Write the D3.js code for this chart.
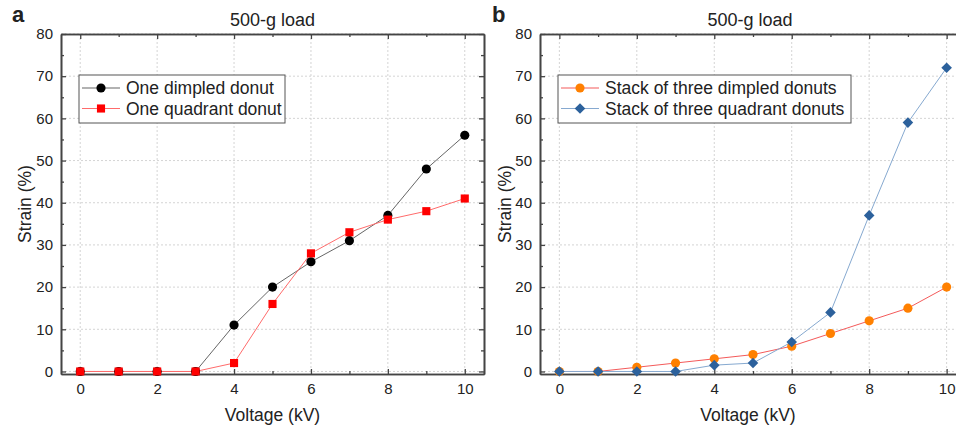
<!DOCTYPE html>
<html>
<head>
<meta charset="utf-8">
<script src="https://cdn.jsdelivr.net/npm/d3@7"></script>
<style>
  body { margin: 0; background: #fff; }
  text { font-family: "Liberation Sans", Arial, sans-serif; fill: #222; }
</style>
</head>
<body>
<div id="chart"></div>
<script>
// data
const voltage = [0, 1, 2, 3, 4, 5, 6, 7, 8, 9, 10];
const oneDimpled = [0, 0, 0, 0, 11, 20, 26, 31, 37, 48, 56];
const oneQuadrant = [0, 0, 0, 0, 2, 16, 28, 33, 36, 38, 41];
const stackDimpled = [0, 0, 1, 2, 3, 4, 6, 9, 12, 15, 20];
const stackQuadrant = [0, 0, 0, 0, 1.5, 2, 7, 14, 37, 59, 72];
const xTicks = [0, 2, 4, 6, 8, 10];
const yTicks = [0, 10, 20, 30, 40, 50, 60, 70, 80];

const width = 956, height = 430;

const svg = d3.select("#chart").append("svg")
  .attr("width", width)
  .attr("height", height);

const panels = [
  {
    letter: "a", left: 61, right: 484, letterX: 12, ylabX: 31,
    series: [
      {name: "One dimpled donut", values: oneDimpled, line: "#666", fill: "#000", shape: "circle"},
      {name: "One quadrant donut", values: oneQuadrant, line: "#ff6b6b", fill: "#ff0000", shape: "square"}
    ],
    legend: {x: 79, y: 75, w: 206, h: 48}
  },
  {
    letter: "b", left: 540, right: 966, letterX: 492, ylabX: 511,
    series: [
      {name: "Stack of three dimpled donuts", values: stackDimpled, line: "#f45a5a", fill: "#ff8000", shape: "circle"},
      {name: "Stack of three quadrant donuts", values: stackQuadrant, line: "#86a9d0", fill: "#2c619c", shape: "diamond"}
    ],
    legend: {x: 558, y: 75, w: 293, h: 48}
  }
];

const plotTop = 34, plotBottom = 374;

// marker drawing: diamond is a square turned 45 degrees
const markerPath = shape => shape === "circle"
  ? d3.symbol(d3.symbolCircle, 66)()
  : d3.symbol(d3.symbolSquare, shape === "square" ? 66 : 56)();
const markerRot = shape => shape === "diamond" ? " rotate(45)" : "";

panels.forEach(p => {
  const x = d3.scaleLinear().domain([-0.5, 10.5]).range([p.left, p.right]);
  const y = d3.scaleLinear().domain([-0.6, 80]).range([plotBottom, plotTop]);
  const g = svg.append("g");

  // dotted grid
  g.append("g").selectAll("line").data(xTicks).join("line")
    .attr("x1", d => x(d)).attr("x2", d => x(d))
    .attr("y1", plotTop).attr("y2", plotBottom)
    .attr("stroke", "#d4d4d4").attr("stroke-dasharray", "2,2");
  g.append("g").selectAll("line").data(yTicks).join("line")
    .attr("x1", p.left).attr("x2", p.right)
    .attr("y1", d => y(d)).attr("y2", d => y(d))
    .attr("stroke", "#d4d4d4").attr("stroke-dasharray", "2,2");

  // axes with inward ticks, minor ones in between
  const minorX = d3.range(1, 10, 2), minorY = d3.range(5, 80, 10);
  const axisStyle = sel => {
    sel.selectAll(".domain").attr("stroke", "#444").attr("stroke-width", 1.6);
    sel.selectAll(".tick line").attr("stroke", "#444").attr("stroke-width", 1.3);
    sel.selectAll("text").style("font-size", "15px").attr("fill", "#222");
  };
  g.append("g").attr("transform", `translate(0,${plotBottom})`)
    .call(d3.axisBottom(x).tickValues(xTicks).tickSize(-5).tickPadding(9).tickSizeOuter(0))
    .call(axisStyle);
  g.append("g").attr("transform", `translate(0,${plotBottom})`)
    .call(d3.axisBottom(x).tickValues(minorX).tickSize(-3).tickFormat("").tickSizeOuter(0))
    .call(axisStyle);
  g.append("g").attr("transform", `translate(0,${plotTop})`)
    .call(d3.axisTop(x).tickValues(xTicks).tickSize(-5).tickFormat("").tickSizeOuter(0))
    .call(axisStyle);
  g.append("g").attr("transform", `translate(0,${plotTop})`)
    .call(d3.axisTop(x).tickValues(minorX).tickSize(-3).tickFormat("").tickSizeOuter(0))
    .call(axisStyle);
  g.append("g").attr("transform", `translate(${p.left},0)`)
    .call(d3.axisLeft(y).tickValues(yTicks).tickSize(-5).tickPadding(8).tickSizeOuter(0))
    .call(axisStyle);
  g.append("g").attr("transform", `translate(${p.left},0)`)
    .call(d3.axisLeft(y).tickValues(minorY).tickSize(-3).tickFormat("").tickSizeOuter(0))
    .call(axisStyle);
  g.append("g").attr("transform", `translate(${p.right},0)`)
    .call(d3.axisRight(y).tickValues(yTicks).tickSize(-5).tickFormat("").tickSizeOuter(0))
    .call(axisStyle);
  g.append("g").attr("transform", `translate(${p.right},0)`)
    .call(d3.axisRight(y).tickValues(minorY).tickSize(-3).tickFormat("").tickSizeOuter(0))
    .call(axisStyle);

  // series lines, then markers on top
  p.series.forEach(s => {
    const pts = voltage.map((v, i) => [v, s.values[i]]);
    g.append("path").datum(pts)
      .attr("fill", "none").attr("stroke", s.line).attr("stroke-width", 1)
      .attr("d", d3.line().x(d => x(d[0])).y(d => y(d[1])));
  });
  p.series.forEach(s => {
    const pts = voltage.map((v, i) => [v, s.values[i]]);
    g.append("g").selectAll("path").data(pts).join("path")
      .attr("transform", d => `translate(${x(d[0])},${y(d[1])})${markerRot(s.shape)}`)
      .attr("d", markerPath(s.shape))
      .attr("fill", s.fill);
  });

  // legend
  const L = p.legend;
  const lg = g.append("g");
  lg.append("rect").attr("x", L.x).attr("y", L.y).attr("width", L.w).attr("height", L.h)
    .attr("fill", "#fff").attr("stroke", "#555").attr("stroke-width", 1);
  p.series.forEach((s, i) => {
    const cy = L.y + 13 + i * 20.5;
    lg.append("line").attr("x1", L.x + 3).attr("x2", L.x + 41).attr("y1", cy).attr("y2", cy)
      .attr("stroke", s.line).attr("stroke-width", 1.2);
    lg.append("path").attr("transform", `translate(${L.x + 22},${cy})${markerRot(s.shape)}`)
      .attr("d", markerPath(s.shape))
      .attr("fill", s.fill);
    lg.append("text").attr("x", L.x + 47).attr("y", cy + 6)
      .style("font-size", "17.5px").text(s.name);
  });

  // titles and labels
  svg.append("text").attr("x", (p.left + Math.min(p.right, 956)) / 2 + (p.letter === "b" ? 2 : 0)).attr("y", 26)
    .attr("text-anchor", "middle").style("font-size", "18px").text("500-g load");
  svg.append("text").attr("x", p.letterX).attr("y", 22)
    .style("font-size", "22px").style("font-weight", "bold").attr("fill", "#000").text(p.letter);
  svg.append("text").attr("x", (p.left + Math.min(p.right, 956)) / 2).attr("y", 421)
    .attr("text-anchor", "middle").style("font-size", "17.5px").text("Voltage (kV)");
  svg.append("text").attr("transform", `translate(${p.ylabX},${(plotTop + plotBottom) / 2}) rotate(-90)`)
    .attr("text-anchor", "middle").style("font-size", "17.5px").text("Strain (%)");
});
</script>
</body>
</html>
